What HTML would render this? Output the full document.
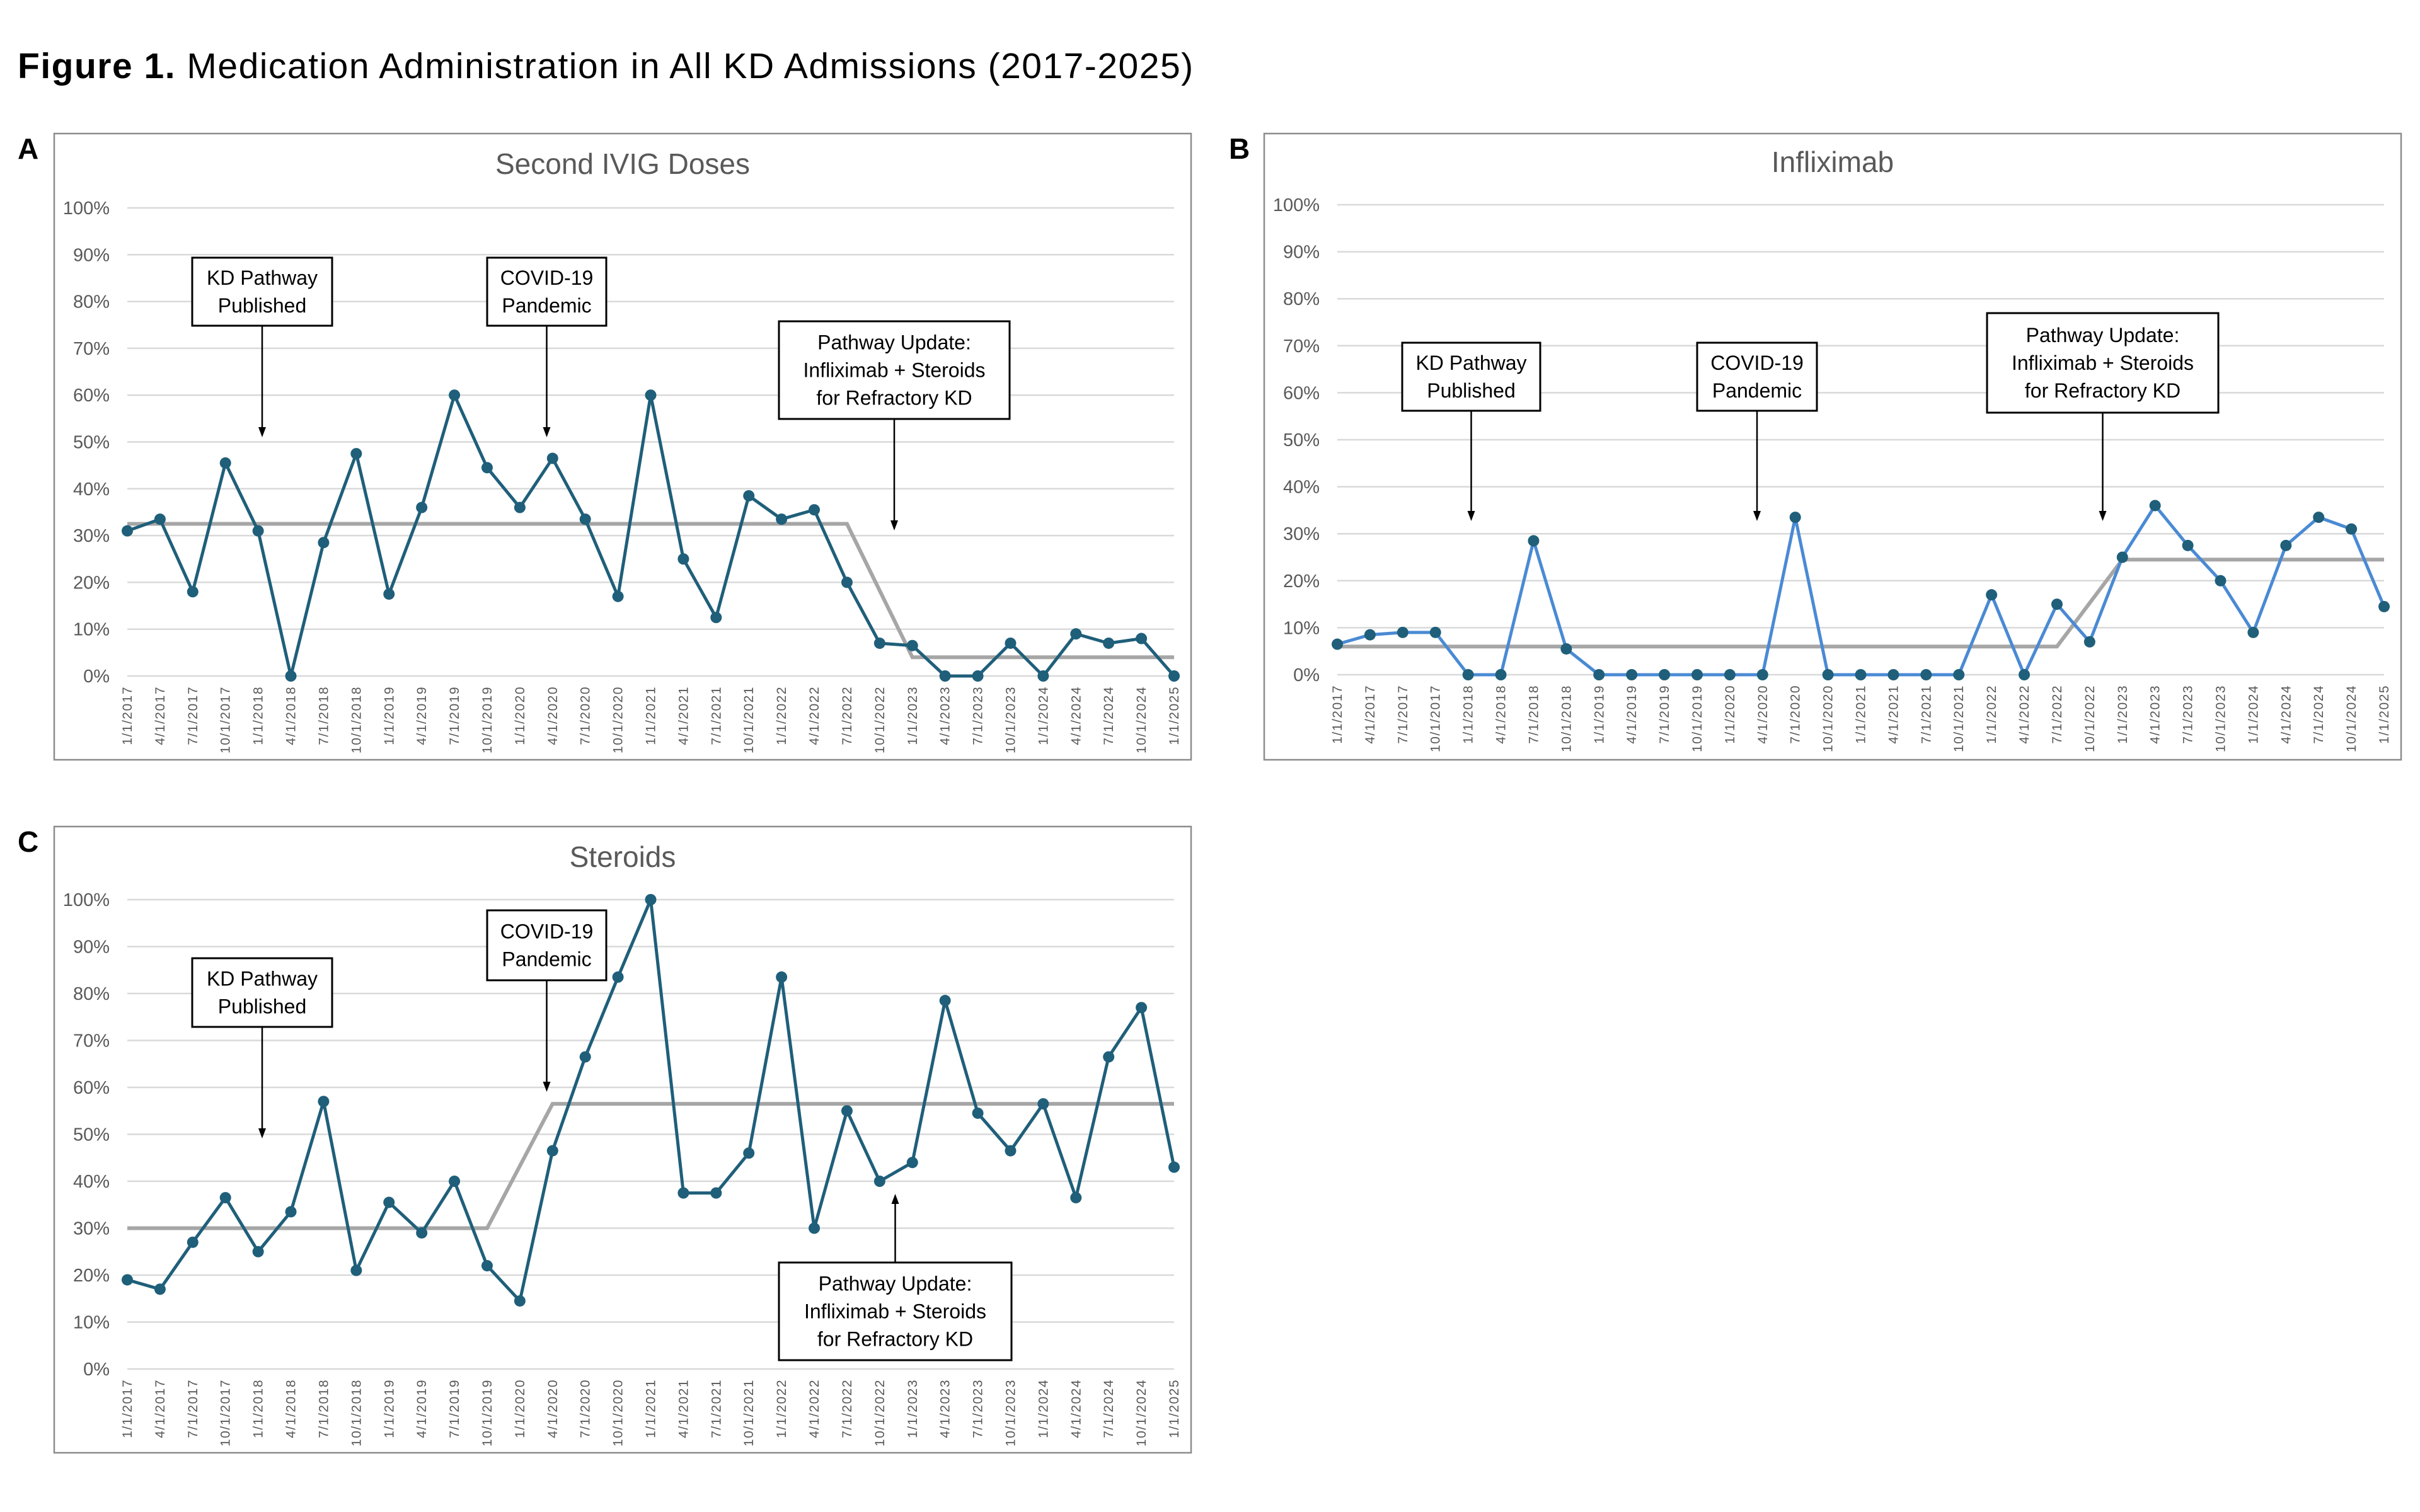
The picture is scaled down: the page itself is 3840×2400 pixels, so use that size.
<!DOCTYPE html>
<html><head><meta charset="utf-8">
<style>
html,body{margin:0;padding:0;background:#fff;}
svg{display:block;font-family:"Liberation Sans",sans-serif;}
</style></head>
<body>
<svg id="fig" width="3840" height="2400" viewBox="0 0 3840 2400" xmlns="http://www.w3.org/2000/svg">
<text x="28" y="124" font-size="57" letter-spacing="1.5" fill="#000"><tspan font-weight="bold">Figure 1.</tspan> Medication Administration in All KD Admissions (2017-2025)</text>
<text x="28" y="252" font-size="46" font-weight="bold">A</text>
<text x="1950" y="252" font-size="46" font-weight="bold">B</text>
<text x="28" y="1352" font-size="46" font-weight="bold">C</text>
</svg>
<script>
const categories = ["1/1/2017","4/1/2017","7/1/2017","10/1/2017","1/1/2018","4/1/2018","7/1/2018","10/1/2018","1/1/2019","4/1/2019","7/1/2019","10/1/2019","1/1/2020","4/1/2020","7/1/2020","10/1/2020","1/1/2021","4/1/2021","7/1/2021","10/1/2021","1/1/2022","4/1/2022","7/1/2022","10/1/2022","1/1/2023","4/1/2023","7/1/2023","10/1/2023","1/1/2024","4/1/2024","7/1/2024","10/1/2024","1/1/2025"];
const yTicks = [0,10,20,30,40,50,60,70,80,90,100];
const ivigValues = [31,33.5,18,45.5,31,0,28.5,47.5,17.5,36,60,44.5,36,46.5,33.5,17,60,25,12.5,38.5,33.5,35.5,20,7,6.5,0,0,7,0,9,7,8,0];
const ivigMean = [32.5,32.5,32.5,32.5,32.5,32.5,32.5,32.5,32.5,32.5,32.5,32.5,32.5,32.5,32.5,32.5,32.5,32.5,32.5,32.5,32.5,32.5,32.5,18.25,4,4,4,4,4,4,4,4,4];
const inflixValues = [6.5,8.5,9,9,0,0,28.5,5.5,0,0,0,0,0,0,33.5,0,0,0,0,0,17,0,15,7,25,36,27.5,20,9,27.5,33.5,31,14.5];
const inflixMean = [6,6,6,6,6,6,6,6,6,6,6,6,6,6,6,6,6,6,6,6,6,6,6,15.25,24.5,24.5,24.5,24.5,24.5,24.5,24.5,24.5,24.5];
const steroidValues = [19,17,27,36.5,25,33.5,57,21,35.5,29,40,22,14.5,46.5,66.5,83.5,100,37.5,37.5,46,83.5,30,55,40,44,78.5,54.5,46.5,56.5,36.5,66.5,77,43];
const steroidMean = [30,30,30,30,30,30,30,30,30,30,30,30,43.25,56.5,56.5,56.5,56.5,56.5,56.5,56.5,56.5,56.5,56.5,56.5,56.5,56.5,56.5,56.5,56.5,56.5,56.5,56.5,56.5];

const NS="http://www.w3.org/2000/svg";
const svg=document.getElementById('fig');
function mk(tag,attrs,parent){const e=document.createElementNS(NS,tag);for(const k in attrs)e.setAttribute(k,attrs[k]);(parent||svg).appendChild(e);return e;}

function panel(cfg){
  const g=mk('g',{});
  
  
  const box=mk('rect',{x:cfg.bx,y:cfg.by,width:cfg.bw,height:cfg.bh,fill:'#fff',stroke:'#8c8c8c','stroke-width':2.5},g);
  
  
  const xs=i=>cfg.x0+(cfg.x1-cfg.x0)*i/(categories.length-1);
  const ys=v=>cfg.y0-(cfg.y0-cfg.y100)*v/100;
  const t=mk('text',{x:(cfg.bx+cfg.bw/2),y:cfg.ty,'font-size':46,fill:'#595959','text-anchor':'middle'},g);
  t.textContent=cfg.title;
  
  
  yTicks.forEach(v=>{
    const gl=mk('line',{x1:cfg.x0,x2:cfg.x1,y1:ys(v),y2:ys(v),stroke:'#d9d9d9','stroke-width':2.5},g);
    
    
    const yl=mk('text',{x:cfg.x0-28,y:ys(v)+10,'font-size':29,fill:'#595959','text-anchor':'end'},g);
    yl.textContent=v+'%';
    
    
  });
  categories.forEach((c,i)=>{
    const xl=mk('text',{x:0,y:0,'font-size':21,fill:'#595959','text-anchor':'end',transform:`translate(${xs(i)+7},${cfg.y0+16}) rotate(-90)`,'letter-spacing':1.5},g);
    xl.textContent=c;
    
    
  });
  const mp=mk('polyline',{points:cfg.mean.map((v,i)=>xs(i)+','+ys(v)).join(' '),fill:'none',stroke:'#a6a6a6','stroke-width':6},g);
  
  
  const sp=mk('polyline',{points:cfg.values.map((v,i)=>xs(i)+','+ys(v)).join(' '),fill:'none',stroke:cfg.lineColor,'stroke-width':5,'stroke-linejoin':'round'},g);
  
  
  cfg.values.forEach((v,i)=>{
    const p=mk('circle',{cx:xs(i),cy:ys(v),r:9,fill:'#1f5f7a'},g);
    
    
  });
  cfg.notes.forEach(n=>{
    const ng=mk('g',{},g);
    
    
    mk('rect',{x:n.x,y:n.y,width:n.w,height:n.h,fill:'#fff',stroke:'#000','stroke-width':3},ng);
    const lh=44, cy=n.y+n.h/2-(n.lines.length-1)*lh/2+11;
    n.lines.forEach((l,k)=>{const tt=mk('text',{x:n.x+n.w/2,y:cy+k*lh,'font-size':32,fill:'#000','text-anchor':'middle'},ng);tt.textContent=l;});
    const ax=n.x+n.w/2;
    if(n.up){
      mk('line',{x1:ax,x2:ax,y1:n.y,y2:n.ay+14,stroke:'#000','stroke-width':2.5},ng);
      mk('polygon',{points:`${ax-6},${n.ay+16} ${ax+6},${n.ay+16} ${ax},${n.ay}`,fill:'#000'},ng);
    } else {
      mk('line',{x1:ax,x2:ax,y1:n.y+n.h,y2:n.ay-14,stroke:'#000','stroke-width':2.5},ng);
      mk('polygon',{points:`${ax-6},${n.ay-16} ${ax+6},${n.ay-16} ${ax},${n.ay}`,fill:'#000'},ng);
    }
  });
}
const KD=["KD Pathway","Published"], CV=["COVID-19","Pandemic"], PU=["Pathway Update:","Infliximab + Steroids","for Refractory KD"];
panel({name:'panel-a-second-ivig',title:'Second IVIG Doses',bx:86,by:212,bw:1804,bh:994,x0:202,x1:1863,y100:330,y0:1073,ty:276,values:ivigValues,mean:ivigMean,lineColor:'#1f5f7a',
  notes:[{x:305,y:409,w:222,h:108,lines:KD,ay:694},{x:773,y:409,w:189,h:108,lines:CV,ay:694},{x:1236,y:510,w:366,h:155,lines:PU,ay:842}]});
panel({name:'panel-b-infliximab',title:'Infliximab',bx:2006,by:212,bw:1804,bh:994,x0:2122,x1:3783,y100:325,y0:1071,ty:273,values:inflixValues,mean:inflixMean,lineColor:'#4a8ad4',
  notes:[{x:2225,y:544,w:219,h:108,lines:KD,ay:827},{x:2693,y:544,w:190,h:108,lines:CV,ay:827},{x:3153,y:497,w:367,h:158,lines:PU,ay:827}]});
panel({name:'panel-c-steroids',title:'Steroids',bx:86,by:1312,bw:1804,bh:994,x0:202,x1:1863,y100:1428,y0:2173,ty:1376,values:steroidValues,mean:steroidMean,lineColor:'#1f5f7a',
  notes:[{x:305,y:1521,w:222,h:109,lines:KD,ay:1807},{x:773,y:1445,w:189,h:111,lines:CV,ay:1733},{x:1236,y:2004,w:369,h:155,lines:PU,ay:1895,up:true}]});
</script>
</body></html>
